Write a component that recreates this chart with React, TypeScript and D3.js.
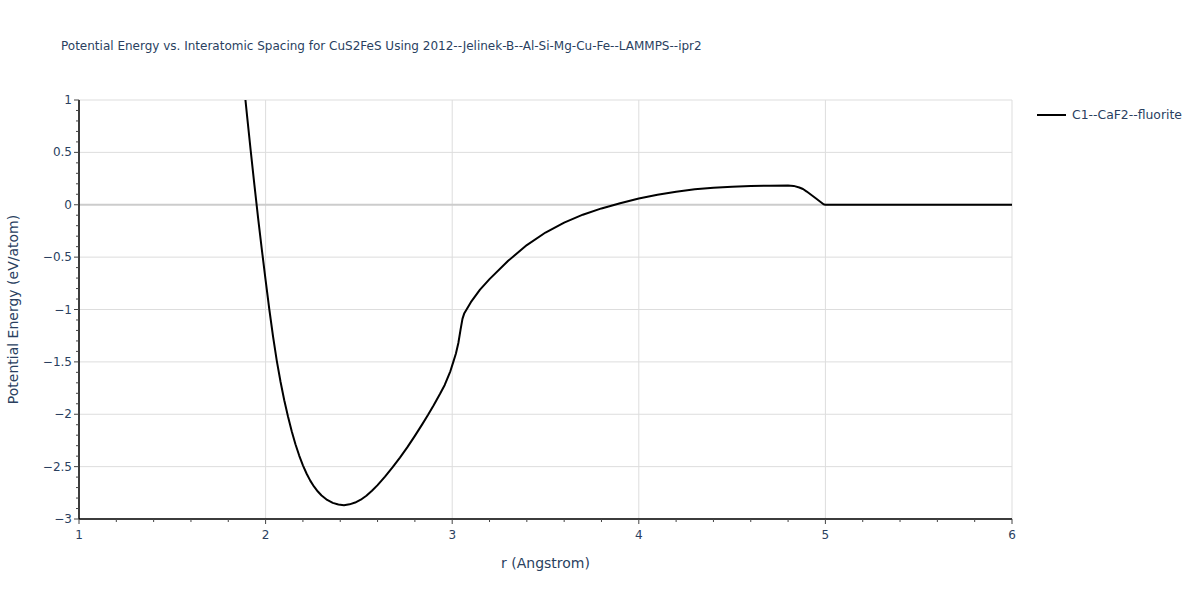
import * as d3 from 'd3'
import React from 'react'

// curve (r in Angstrom, energy in eV/atom)
const rValues = [
  1.88, 1.9, 1.92, 1.94, 1.96, 1.98, 2.0, 2.02, 2.04, 2.06, 2.08, 2.1, 2.12, 2.14, 2.16, 2.18,
  2.2, 2.22, 2.24, 2.26, 2.28, 2.3, 2.33, 2.36, 2.39, 2.42, 2.45, 2.48, 2.51, 2.54, 2.57, 2.6,
  2.64, 2.68, 2.72, 2.76, 2.8, 2.84, 2.87, 2.9, 2.935, 2.96, 2.99, 3.006, 3.02, 3.033, 3.045,
  3.055, 3.065, 3.1, 3.149, 3.2, 3.3, 3.4, 3.5, 3.6, 3.7, 3.8, 3.9, 4.0, 4.1, 4.2, 4.3,
  4.4, 4.5, 4.6, 4.7, 4.8, 4.83, 4.86, 4.88, 4.9, 4.95, 4.99, 5.0, 6.0,
]
const energyValues = [
  1.21, 0.86, 0.52, 0.19, -0.13, -0.43, -0.72, -1.0, -1.26, -1.49, -1.69, -1.866, -2.022,
  -2.162, -2.286, -2.394, -2.488, -2.568, -2.636, -2.692, -2.738, -2.776, -2.818, -2.846,
  -2.862, -2.868, -2.86, -2.843, -2.816, -2.778, -2.731, -2.677, -2.596, -2.508, -2.414, -2.314,
  -2.206, -2.094, -2.008, -1.917, -1.805, -1.72, -1.59, -1.5, -1.42, -1.32, -1.19, -1.09, -1.035,
  -0.93, -0.81, -0.71, -0.535, -0.385, -0.265, -0.17, -0.095, -0.035, 0.015, 0.06, 0.095,
  0.125, 0.147, 0.162, 0.173, 0.179, 0.182, 0.183, 0.18, 0.165, 0.15, 0.126, 0.06, 0.005, 0.0,
  0.0,
]
const xTicks = [1, 2, 3, 4, 5, 6]
const yTicks = [1, 0.5, 0, -0.5, -1, -1.5, -2, -2.5, -3]
const seriesName = 'C1--CaF2--fluorite'
const title = 'Potential Energy vs. Interatomic Spacing for CuS2FeS Using 2012--Jelinek-B--Al-Si-Mg-Cu-Fe--LAMMPS--ipr2'

const W = 1200, H = 600
const M = { left: 79, right: 188, top: 100, bottom: 81 }
const font = '"DejaVu Sans", verdana, arial, sans-serif'
const textColor = '#2a3f5f'

const fmt = (v: number) => (v < 0 ? '\u2212' + Math.abs(v) : String(v))

export default function App() {
  const
    x = d3.scaleLinear().domain([1, 6]).range([M.left, W - M.right]),
    y = d3.scaleLinear().domain([-3, 1]).range([H - M.bottom, M.top]),
    points = rValues.map((r, i) => [r, energyValues[i]] as [number, number]),
    line = d3.line<[number, number]>().x(d => x(d[0])).y(d => y(d[1]))(points),
    xMinor = d3.range(1, 6.001, 0.2).filter(v => Math.abs(v - Math.round(v)) > 1e-6),
    yMinor = d3.range(-3, 1.001, 0.1).filter(v => Math.abs(v * 2 - Math.round(v * 2)) > 1e-6),
    [x0, x1] = x.range(),
    [yb, yt] = y.range()

  return (
    <div style={{ position: 'absolute', left: 0, top: 0 }}>
      <svg width={W} height={H} style={{ fontFamily: font, background: '#fff' }}>
        <defs>
          <clipPath id='plot'>
            <rect x={x0} y={yt} width={x1 - x0} height={yb - yt} />
          </clipPath>
        </defs>
        <text x={61} y={50} fontSize={12} fill={textColor}>{title}</text>

        {xTicks.map(t => (
          <line key={'gx' + t} x1={x(t)} x2={x(t)} y1={yt} y2={yb} stroke='#dddddd' strokeWidth={1} />
        ))}
        {yTicks.filter(t => t !== 0).map(t => (
          <line key={'gy' + t} x1={x0} x2={x1} y1={y(t)} y2={y(t)} stroke='#dddddd' strokeWidth={1} />
        ))}
        <line x1={x0} x2={x1} y1={y(0)} y2={y(0)} stroke='#cccccc' strokeWidth={2} />

        <path d={line as string} fill='none' stroke='#000' strokeWidth={2} clipPath='url(#plot)' strokeLinejoin='round' />

        <line x1={x0} x2={x1} y1={yb} y2={yb} stroke='#000' strokeWidth={1.5} />
        <line x1={x0} x2={x0} y1={yt} y2={yb} stroke='#000' strokeWidth={1.5} />

        {xTicks.map(t => (
          <g key={'tx' + t}>
            <line x1={x(t)} x2={x(t)} y1={yb} y2={yb + 5} stroke='#444' />
            <text x={x(t)} y={yb + 20} fontSize={12} fill={textColor} textAnchor='middle'>{t}</text>
          </g>
        ))}
        {xMinor.map(t => (
          <line key={'mx' + t} x1={x(t)} x2={x(t)} y1={yb} y2={yb + 3} stroke='#444' />
        ))}
        {yTicks.map(t => (
          <g key={'ty' + t}>
            <line x1={x0 - 5} x2={x0} y1={y(t)} y2={y(t)} stroke='#444' />
            <text x={x0 - 7} y={y(t) + 4} fontSize={12} fill={textColor} textAnchor='end'>{fmt(t)}</text>
          </g>
        ))}
        {yMinor.map(t => (
          <line key={'my' + t} x1={x0 - 3} x2={x0} y1={y(t)} y2={y(t)} stroke='#444' />
        ))}

        <text x={(x0 + x1) / 2} y={568} fontSize={14} fill={textColor} textAnchor='middle'>r (Angstrom)</text>
        <text transform={`translate(18,${(yt + yb) / 2}) rotate(-90)`} fontSize={14} fill={textColor} textAnchor='middle'>
          Potential Energy (eV/atom)
        </text>

        <line x1={1037} x2={1066} y1={115} y2={115} stroke='#000' strokeWidth={2} />
        <text x={1072} y={119} fontSize={12.4} fill={textColor}>{seriesName}</text>
      </svg>
    </div>
  )
}
